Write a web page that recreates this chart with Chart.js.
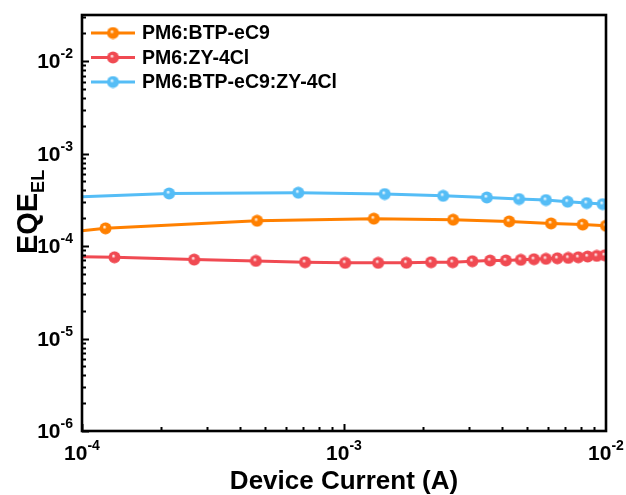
<!DOCTYPE html>
<html>
<head>
<meta charset="utf-8">
<script src="https://cdn.jsdelivr.net/npm/chart.js@4.4.1/dist/chart.umd.min.js"></script>
<style>
  html, body { margin: 0; padding: 0; background: #fff; }
  #eqeChart { display: block; }
</style>
</head>
<body>
<canvas id="eqeChart" width="626" height="495"></canvas>
<script>
// values (device current in A, EQE_EL)
const seriesNames = ["PM6:BTP-eC9", "PM6:ZY-4Cl", "PM6:BTP-eC9:ZY-4Cl"];
const seriesColors = ["#ff8000", "#f04a52", "#55bdf6"];

const eC9Current = [8.5e-5, 1.23e-4, 4.66e-4, 1.30e-3, 2.61e-3, 4.27e-3, 6.17e-3, 8.15e-3, 1.0e-2];
const eC9Eqe = [1.40e-4, 1.556e-4, 1.88e-4, 1.98e-4, 1.93e-4, 1.85e-4, 1.76e-4, 1.71e-4, 1.66e-4];

const zyCurrent = [8.5e-5, 1.33e-4, 2.68e-4, 4.61e-4, 7.10e-4, 1.01e-3, 1.35e-3, 1.73e-3, 2.15e-3, 2.60e-3,
  3.09e-3, 3.61e-3, 4.15e-3, 4.73e-3, 5.31e-3, 5.90e-3, 6.52e-3, 7.18e-3, 7.84e-3, 8.51e-3, 9.22e-3, 9.89e-3];
const zyEqe = [7.76e-5, 7.57e-5, 7.15e-5, 6.92e-5, 6.69e-5, 6.59e-5, 6.59e-5, 6.60e-5, 6.69e-5, 6.69e-5,
  6.86e-5, 6.98e-5, 7.00e-5, 7.10e-5, 7.21e-5, 7.28e-5, 7.38e-5, 7.45e-5, 7.57e-5, 7.71e-5, 7.83e-5, 7.96e-5];

const ternaryCurrent = [8.5e-5, 2.15e-4, 6.69e-4, 1.43e-3, 2.39e-3, 3.51e-3, 4.66e-3, 5.90e-3, 7.14e-3, 8.44e-3, 9.71e-3];
const ternaryEqe = [3.36e-4, 3.71e-4, 3.78e-4, 3.66e-4, 3.50e-4, 3.36e-4, 3.23e-4, 3.15e-4, 3.02e-4, 2.92e-4, 2.85e-4];

const xTickValues = [1e-4, 1e-3, 1e-2];
const xTickExps = ["-4", "-3", "-2"];
const yTickValues = [1e-6, 1e-5, 1e-4, 1e-3, 1e-2];
const yTickExps = ["-6", "-5", "-4", "-3", "-2"];

const xTitle = "Device Current (A)";
const yTitleMain = "EQE";
const yTitleSub = "EL";

const FONT = "'Liberation Sans', Arial, sans-serif";

function sphere(color) {
  const c = document.createElement("canvas");
  c.width = 13;
  c.height = 13;
  const g = c.getContext("2d");
  const grad = g.createRadialGradient(5.3, 5.0, 0.3, 6.5, 6.5, 6.3);
  grad.addColorStop(0, "rgba(255,255,255,0.95)");
  grad.addColorStop(0.3, color);
  grad.addColorStop(1, color);
  g.fillStyle = grad;
  g.beginPath();
  g.arc(6.5, 6.5, 6.0, 0, Math.PI * 2);
  g.fill();
  return c;
}

function toPoints(xs, ys) {
  return xs.map((x, i) => ({ x: x, y: ys[i] }));
}

function dataset(i, xs, ys) {
  return {
    label: seriesNames[i],
    data: toPoints(xs, ys),
    borderColor: seriesColors[i],
    borderWidth: 3,
    pointStyle: sphere(seriesColors[i]),
    pointRadius: 6,
    pointHoverRadius: 6,
    tension: 0,
  };
}

function drawPower(ctx, exp, x, y, align) {
  const baseFont = "bold 21px " + FONT;
  const expFont = "bold 14px " + FONT;
  ctx.font = baseFont;
  const wb = ctx.measureText("10").width;
  ctx.font = expFont;
  const we = ctx.measureText(exp).width;
  const total = wb + we;
  let left = x;
  if (align === "center") left = x - total / 2;
  if (align === "right") left = x - total;
  ctx.textAlign = "left";
  ctx.textBaseline = "alphabetic";
  ctx.font = baseFont;
  ctx.fillText("10", left, y + 7);
  ctx.font = expFont;
  ctx.fillText(exp, left + wb, y - 3);
}

const framePlugin = {
  id: "frame",
  afterDraw(chart) {
    const ctx = chart.ctx;
    const a = chart.chartArea;
    const xs = chart.scales.x;
    const ys = chart.scales.y;
    ctx.save();
    ctx.fillStyle = "#000";
    ctx.strokeStyle = "#000";

    // minor + major ticks (inside)
    ctx.lineWidth = 2;
    ctx.beginPath();
    for (let d = -4; d < -2; d++) {
      for (let m = 1; m <= 9; m++) {
        const v = m * Math.pow(10, d);
        const px = Math.round(xs.getPixelForValue(v)) + 0.5;
        const len = m === 1 ? 7 : 4;
        ctx.moveTo(px, a.bottom);
        ctx.lineTo(px, a.bottom - len);
      }
    }
    for (let d = -6; d < -1; d++) {
      for (let m = 1; m <= 9; m++) {
        const v = m * Math.pow(10, d);
        if (v > ys.max) break;
        const py = Math.round(ys.getPixelForValue(v)) + 0.5;
        const len = m === 1 ? 7 : 4;
        ctx.moveTo(a.left, py);
        ctx.lineTo(a.left + len, py);
      }
    }
    ctx.stroke();

    // frame
    ctx.lineWidth = 2.6;
    ctx.strokeRect(a.left, a.top, a.right - a.left, a.bottom - a.top);

    // tick labels
    xTickValues.forEach((v, i) => {
      drawPower(ctx, xTickExps[i], xs.getPixelForValue(v), a.bottom + 22, "center");
    });
    yTickValues.forEach((v, i) => {
      drawPower(ctx, yTickExps[i], a.left - 9, ys.getPixelForValue(v), "right");
    });

    // axis titles
    ctx.font = "bold 26px " + FONT;
    ctx.textAlign = "center";
    ctx.textBaseline = "alphabetic";
    ctx.fillText(xTitle, (a.left + a.right) / 2, 489);

    ctx.save();
    ctx.translate(37, 212);
    ctx.rotate(-Math.PI / 2);
    ctx.font = "bold 29px " + FONT;
    const wMain = ctx.measureText(yTitleMain).width;
    ctx.font = "bold 18px " + FONT;
    const wSub = ctx.measureText(yTitleSub).width;
    const start = -(wMain + wSub) / 2;
    ctx.textAlign = "left";
    ctx.font = "bold 29px " + FONT;
    ctx.fillText(yTitleMain, start, 0);
    ctx.font = "bold 18px " + FONT;
    ctx.fillText(yTitleSub, start + wMain, 7);
    ctx.restore();

    // legend
    chart.data.datasets.forEach((ds, i) => {
      const cy = 33 + i * 24.5;
      ctx.strokeStyle = ds.borderColor;
      ctx.lineWidth = 3;
      ctx.beginPath();
      ctx.moveTo(91, cy);
      ctx.lineTo(135, cy);
      ctx.stroke();
      const img = ds.pointStyle;
      ctx.drawImage(img, 113 - img.width / 2, cy - img.height / 2);
      ctx.fillStyle = "#000";
      ctx.font = "bold 19.5px " + FONT;
      ctx.textAlign = "left";
      ctx.textBaseline = "middle";
      ctx.fillText(ds.label, 142, cy + 1);
    });
    ctx.restore();
  },
};

new Chart(document.getElementById("eqeChart"), {
  type: "line",
  data: {
    datasets: [
      dataset(0, eC9Current, eC9Eqe),
      dataset(1, zyCurrent, zyEqe),
      dataset(2, ternaryCurrent, ternaryEqe),
    ],
  },
  options: {
    responsive: false,
    animation: false,
    events: [],
    layout: { padding: { left: 82, right: 20, top: 15, bottom: 64 } },
    plugins: { legend: { display: false }, tooltip: { enabled: false } },
    scales: {
      x: { type: "logarithmic", min: 1e-4, max: 1e-2, display: false },
      y: { type: "logarithmic", min: 1e-6, max: Math.pow(10, -1.5), display: false },
    },
  },
  plugins: [framePlugin],
});
</script>
</body>
</html>
